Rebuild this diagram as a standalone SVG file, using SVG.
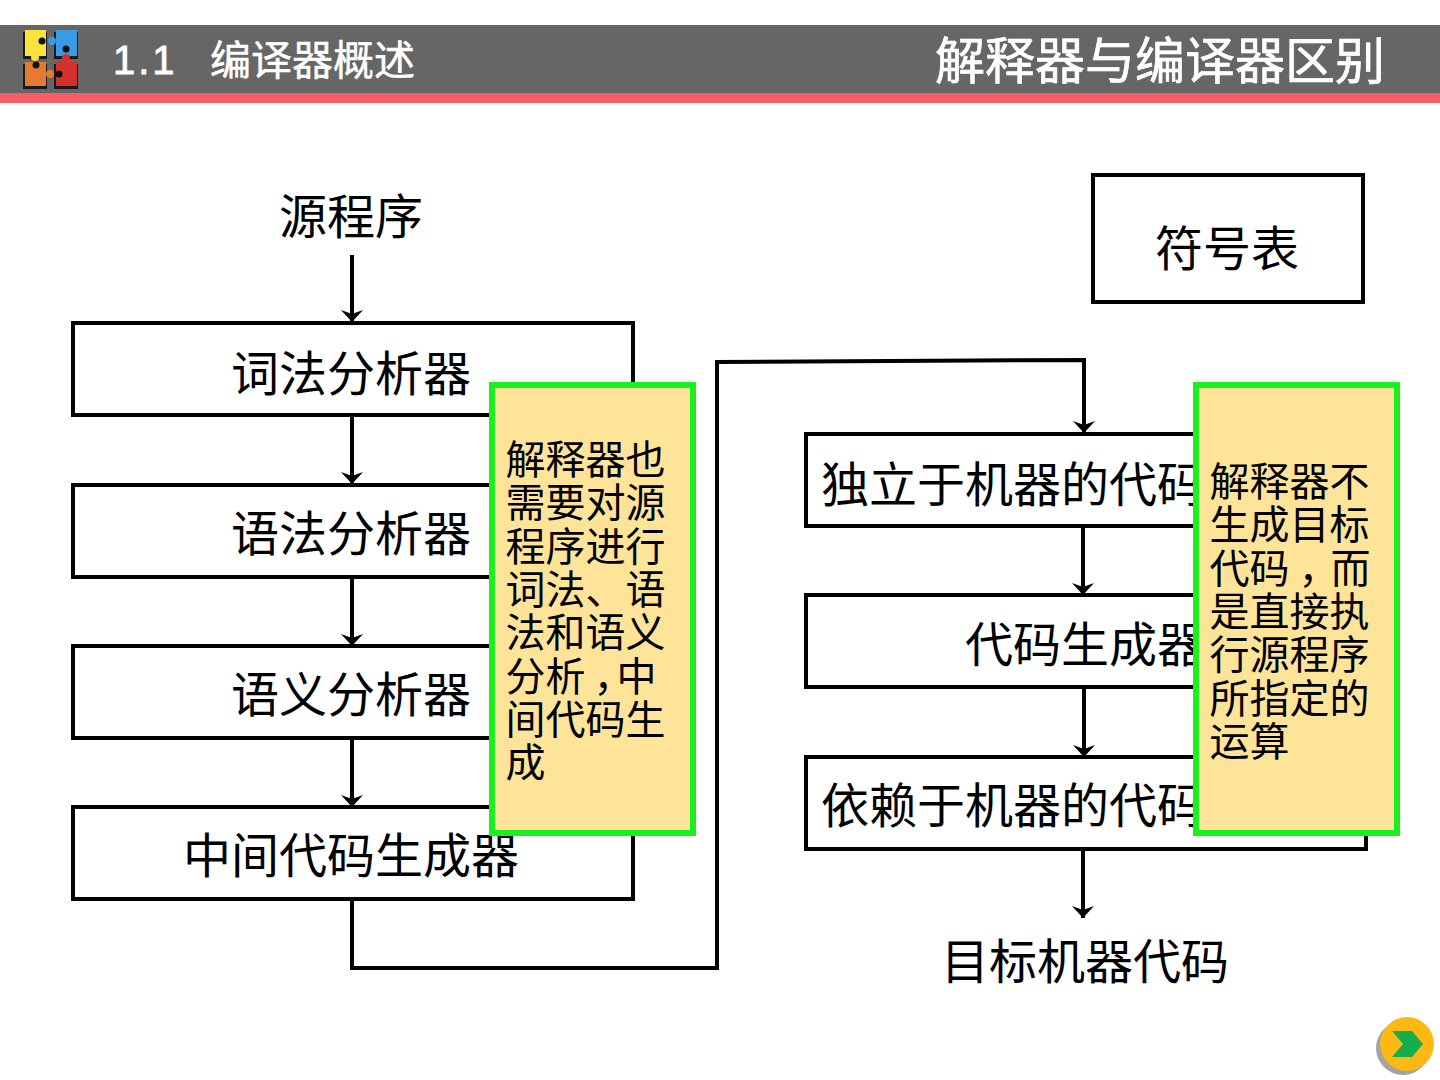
<svg xmlns="http://www.w3.org/2000/svg" width="1440" height="1080" viewBox="0 0 1440 1080">
<style>
text{font-family:"Noto Sans CJK SC","Noto Sans CJK JP",sans-serif;fill:#000;text-anchor:middle}
.b{fill:#fff;stroke:#000;stroke-width:4}
.t{font-size:48px}
.n{font-size:40px;text-anchor:start}
.y{fill:#fde498;stroke:#19f01e;stroke-width:6}
.c path{fill:none;stroke:#000;stroke-width:4}
.h{font-size:50px;fill:#fff;stroke:#fff;stroke-width:.7}
.l{font-size:41px;text-anchor:start;fill:#fff;stroke:#fff;stroke-width:.5}
.s{fill:#1a1a1a}
</style>
<defs>
<marker id="a" markerUnits="userSpaceOnUse" markerWidth="26" markerHeight="26" refX="14" refY="12" orient="auto"><path d="M2 1L14 12L2 23L6 12Z" fill="#000"/></marker>
</defs>
<rect width="1440" height="1080" fill="#fff"/>
<g id="header">
<rect x="0" y="25" width="1440" height="68" fill="#666"/>
<rect x="0" y="93" width="1440" height="10" fill="#fb5c66"/>
<rect class="s" x="23" y="32" width="24" height="27"/><rect class="s" x="54" y="32" width="24" height="27"/>
<rect class="s" x="23" y="64" width="24" height="25"/><rect class="s" x="54" y="64" width="24" height="25"/>
<rect x="25" y="30" width="21" height="26" fill="#fbe33c"/>
<rect x="56" y="30" width="21" height="26" fill="#3a9ae6"/>
<rect x="25" y="62" width="21" height="24" fill="#e67a30"/>
<rect x="56" y="62" width="21" height="24" fill="#d5302c"/>
<circle cx="35" cy="57" r="4" fill="#fbe33c"/><circle cx="52" cy="41" r="4" fill="#3a9ae6"/>
<circle cx="66" cy="58" r="4" fill="#d5302c"/><circle cx="50" cy="74" r="4" fill="#e67a30"/>
<circle cx="42" cy="41" r="3.5" fill="#111"/><circle cx="66" cy="49" r="3.5" fill="#111"/>
<circle cx="36" cy="65" r="3.5" fill="#111"/><circle cx="59" cy="74" r="3.5" fill="#111"/>
<text x="113" y="74" style="font-size:40px;text-anchor:start;letter-spacing:3px;font-family:'Liberation Sans',sans-serif;fill:#fff;stroke:#fff;stroke-width:.8">1.1</text>
<text x="210" y="75" class="l">编译器概述</text>
<text x="1160" y="79" class="h">解释器与编译器区别</text>
</g>
<g class="c" id="connectors">
<path d="M352 255V322" marker-end="url(#a)"/>
<path d="M352 416V484" marker-end="url(#a)"/>
<path d="M352 578V646" marker-end="url(#a)"/>
<path d="M352 739V807" marker-end="url(#a)"/>
<path d="M352 899V968H717V362L1084 360V433" marker-end="url(#a)"/>
<path d="M1083 527V595" marker-end="url(#a)"/>
<path d="M1084 688V757" marker-end="url(#a)"/>
<path d="M1083 850V918" marker-end="url(#a)"/>
</g>
<g id="source"><text x="351" y="234" class="t">源程序</text></g>
<g id="symbols"><rect class="b" x="1093" y="175" width="270" height="127"/><text x="1227" y="266" class="t">符号表</text></g>
<g id="lexer"><rect class="b" x="73" y="323" width="560" height="92"/><text x="351" y="391" class="t">词法分析器</text></g>
<g id="parser"><rect class="b" x="73" y="485" width="560" height="92"/><text x="351" y="551" class="t">语法分析器</text></g>
<g id="semantic"><rect class="b" x="73" y="646" width="560" height="92"/><text x="351" y="712" class="t">语义分析器</text></g>
<g id="intermediate"><rect class="b" x="73" y="807" width="560" height="92"/><text x="351" y="873" class="t">中间代码生成器</text></g>
<g id="indep"><rect class="b" x="806" y="434" width="560" height="92"/><text x="1085" y="502" class="t">独立于机器的代码优化器</text></g>
<g id="codegen"><rect class="b" x="806" y="595" width="560" height="92"/><text x="1085" y="662" class="t">代码生成器</text></g>
<g id="dep"><rect class="b" x="806" y="757" width="560" height="92"/><text x="1085" y="823" class="t">依赖于机器的代码优化器</text></g>
<g id="target"><text x="1085" y="979" class="t">目标机器代码</text></g>
<g id="note1"><rect class="y" x="492" y="385" width="201" height="448"/>
<text class="n" x="505.5" y="474">解释器也</text>
<text class="n" x="505.5" y="517">需要对源</text>
<text class="n" x="505.5" y="561">程序进行</text>
<text class="n" x="505.5" y="604">词法、语</text>
<text class="n" x="505.5" y="647">法和语义</text>
<text class="n" x="505.5" y="691">分析<tspan dx="8">，</tspan><tspan dx="-17">中</tspan></text>
<text class="n" x="505.5" y="734">间代码生</text>
<text class="n" x="505.5" y="777">成</text></g>
<g id="note2"><rect class="y" x="1196" y="385" width="201" height="448"/>
<text class="n" x="1209.5" y="496">解释器不</text>
<text class="n" x="1209.5" y="539">生成目标</text>
<text class="n" x="1209.5" y="583">代码<tspan dx="9">，</tspan><tspan dx="-8">而</tspan></text>
<text class="n" x="1209.5" y="626">是直接执</text>
<text class="n" x="1209.5" y="669">行源程序</text>
<text class="n" x="1209.5" y="713">所指定的</text>
<text class="n" x="1209.5" y="756">运算</text></g>
<g id="next">
<circle cx="1403" cy="1048" r="27" fill="#a3a3a8"/>
<circle cx="1407" cy="1044" r="27" fill="#fdb813"/>
<path d="M1392 1031H1412L1423 1044L1412 1057H1392L1403 1044Z" fill="#17ad4e"/>
</g>
</svg>
